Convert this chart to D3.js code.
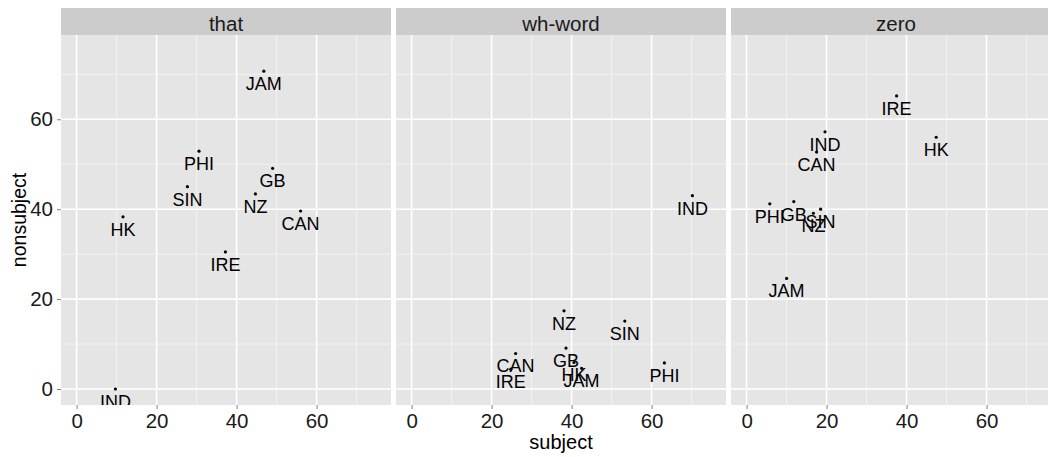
<!DOCTYPE html>
<html>
<head>
<meta charset="utf-8">
<script src="https://cdn.jsdelivr.net/npm/d3@7"></script>
<style>
  body { margin: 0; background: white; }
  text { font-family: "Liberation Sans", Arial, sans-serif; }
</style>
</head>
<body>
<script>
// data
const facets = ["that", "wh-word", "zero"];
const varieties = ["CAN", "GB", "HK", "IND", "IRE", "JAM", "NZ", "PHI", "SIN"];

const thatSubject    = [56.0, 49.0, 11.6, 9.7, 37.2, 46.8, 44.7, 30.6, 27.7];
const thatNonsubject = [39.6, 49.1, 38.3, 0.0, 30.5, 70.7, 43.4, 52.9, 45.0];

const whSubject      = [26.0, 38.6, 40.6, 70.2, 24.8, 42.5, 38.1, 63.2, 53.3];
const whNonsubject   = [7.9, 9.1, 5.9, 43.0, 4.4, 4.6, 17.4, 5.8, 15.1];

const zeroSubject    = [17.5, 11.8, 47.4, 19.6, 37.5, 10.0, 16.7, 5.8, 18.5];
const zeroNonsubject = [52.7, 41.7, 56.0, 57.2, 65.2, 24.6, 39.1, 41.2, 40.0];

const xTicks = [0, 20, 40, 60];
const yTicks = [0, 20, 40, 60];
const xMinor = [10, 30, 50, 70];
const yMinor = [10, 30, 50, 70];

function init() {
  const W = 1048, H = 457;
  const panelW = 330, panelTop = 35, panelBottom = 405, stripTop = 8;
  const panelLefts = [61, 396, 731];

  const series = [
    [thatSubject, thatNonsubject],
    [whSubject, whNonsubject],
    [zeroSubject, zeroNonsubject]
  ];

  const svg = d3.select("body").append("svg")
    .attr("width", W)
    .attr("height", H);

  const x = d3.scaleLinear().domain([-3.9, 78.6]).range([0, panelW]);
  const y = d3.scaleLinear().domain([-3.56, 78.75]).range([panelBottom - panelTop, 0]);
  const ph = panelBottom - panelTop;

  facets.forEach((f, i) => {
    const g = svg.append("g").attr("transform", `translate(${panelLefts[i]},${panelTop})`);

    g.append("clipPath").attr("id", "clip" + i)
      .append("rect").attr("width", panelW).attr("height", ph);

    g.append("rect")
      .attr("width", panelW)
      .attr("height", ph)
      .attr("fill", "#E5E5E5");

    // minor grid
    g.selectAll(".vminor").data(xMinor).enter().append("line")
      .attr("x1", d => x(d)).attr("x2", d => x(d))
      .attr("y1", 0).attr("y2", ph)
      .attr("stroke", "#F2F2F2").attr("stroke-width", 1);
    g.selectAll(".hminor").data(yMinor).enter().append("line")
      .attr("y1", d => y(d)).attr("y2", d => y(d))
      .attr("x1", 0).attr("x2", panelW)
      .attr("stroke", "#F2F2F2").attr("stroke-width", 1);

    // major grid
    g.selectAll(".vmajor").data(xTicks).enter().append("line")
      .attr("x1", d => x(d)).attr("x2", d => x(d))
      .attr("y1", 0).attr("y2", ph)
      .attr("stroke", "white").attr("stroke-width", 1.6);
    g.selectAll(".hmajor").data(yTicks).enter().append("line")
      .attr("y1", d => y(d)).attr("y2", d => y(d))
      .attr("x1", 0).attr("x2", panelW)
      .attr("stroke", "white").attr("stroke-width", 1.6);

    // strip
    svg.append("rect")
      .attr("x", panelLefts[i])
      .attr("y", stripTop)
      .attr("width", panelW)
      .attr("height", panelTop - stripTop)
      .attr("fill", "#CCCCCC");
    svg.append("text")
      .attr("x", panelLefts[i] + panelW / 2)
      .attr("y", 30.5)
      .attr("text-anchor", "middle")
      .attr("font-size", 20.5)
      .attr("fill", "#1A1A1A")
      .text(f);

    const pts = varieties.map((v, k) => ({ name: v, sx: series[i][0][k], sy: series[i][1][k] }));

    const plot = g.append("g").attr("clip-path", `url(#clip${i})`);
    plot.selectAll("circle").data(pts).enter().append("circle")
      .attr("cx", d => x(d.sx))
      .attr("cy", d => y(d.sy))
      .attr("r", 1.6)
      .attr("fill", "black");
    plot.selectAll("text").data(pts).enter().append("text")
      .attr("x", d => x(d.sx))
      .attr("y", d => y(d.sy) + 19)
      .attr("text-anchor", "middle")
      .attr("font-size", 18)
      .attr("fill", "black")
      .text(d => d.name);

    // x axis
    const xa = g.append("g").attr("transform", `translate(0,${ph})`)
      .call(d3.axisBottom(x).tickValues(xTicks).tickSize(4).tickPadding(4).tickFormat(d3.format("d")));
    xa.select(".domain").remove();
    xa.selectAll("line").attr("stroke", "#808080");
    xa.selectAll("text").attr("font-size", 20.5).attr("fill", "#1A1A1A")
      .attr("font-family", "Liberation Sans, Arial, sans-serif");

    if (i === 0) {
      const ya = g.append("g")
        .call(d3.axisLeft(y).tickValues(yTicks).tickSize(4).tickPadding(4).tickFormat(d3.format("d")));
      ya.select(".domain").remove();
      ya.selectAll("line").attr("stroke", "#808080");
      ya.selectAll("text").attr("font-size", 20.5).attr("fill", "#1A1A1A")
        .attr("font-family", "Liberation Sans, Arial, sans-serif");
    }
  });

  svg.append("text")
    .attr("x", panelLefts[1] + panelW / 2)
    .attr("y", 449)
    .attr("text-anchor", "middle")
    .attr("font-size", 20)
    .attr("fill", "black")
    .text("subject");

  svg.append("text")
    .attr("transform", `translate(25.5,${(panelTop + panelBottom) / 2}) rotate(-90)`)
    .attr("text-anchor", "middle")
    .attr("font-size", 19.5)
    .attr("fill", "black")
    .text("nonsubject");
}
init();
</script>
</body>
</html>
